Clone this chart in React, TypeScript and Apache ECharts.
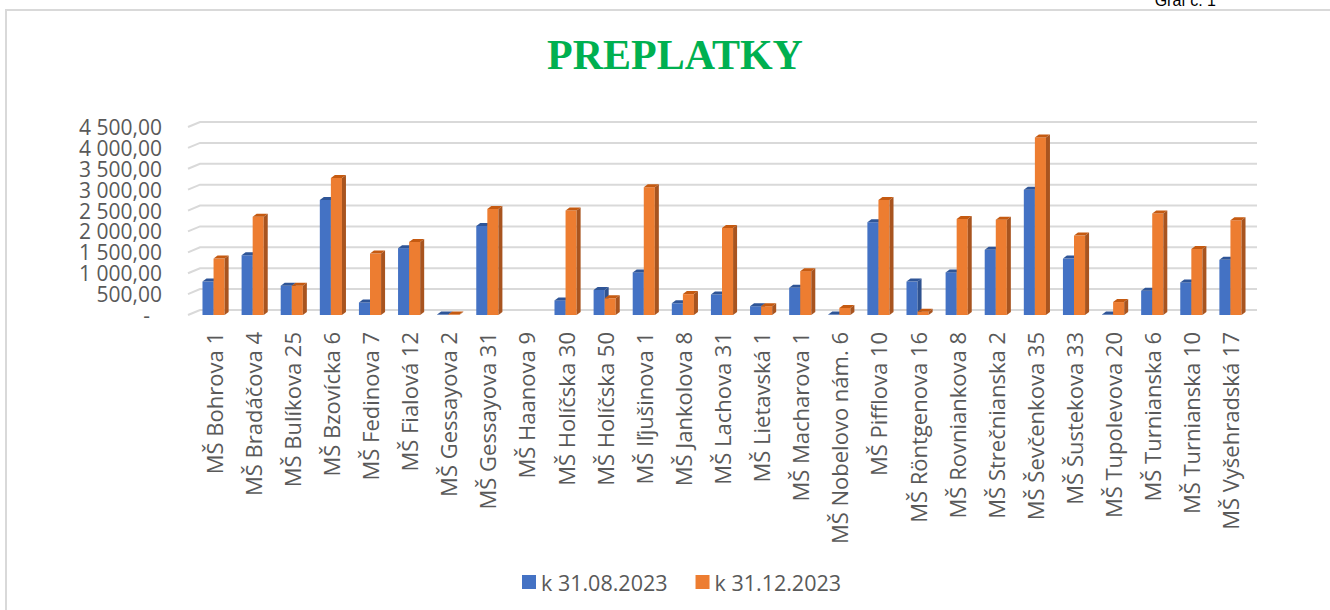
import React, { useEffect, useRef } from 'react';
import * as echarts from 'echarts';

const categories = [
  'MŠ Bohrova 1', 'MŠ Bradáčova 4', 'MŠ Bulíkova 25', 'MŠ Bzovícka 6', 'MŠ Fedinova 7',
  'MŠ Fialová 12', 'MŠ Gessayova 2', 'MŠ Gessayova 31', 'MŠ Haanova 9', 'MŠ Holíčska 30',
  'MŠ Holíčska 50', 'MŠ Iľjušinova 1', 'MŠ Jankolova 8', 'MŠ Lachova 31', 'MŠ Lietavská 1',
  'MŠ Macharova 1', 'MŠ Nobelovo nám. 6', 'MŠ Pifflova 10', 'MŠ Röntgenova 16', 'MŠ Rovniankova 8',
  'MŠ Strečnianska 2', 'MŠ Ševčenkova 35', 'MŠ Šustekova 33', 'MŠ Tupolevova 20', 'MŠ Turnianska 6',
  'MŠ Turnianska 10', 'MŠ Vyšehradská 17',
];

const seriesNames = ['k 31.08.2023', 'k 31.12.2023'];

const aug2023: (number | null)[] = [
  800, 1430, 700, 2750, 300, 1600, 10, 2130, null, 350,
  600, 1020, 280, 490, 210, 650, 10, 2220, 800, 1020,
  1560, 3000, 1350, 10, 580, 780, 1320,
];

const dec2023: (number | null)[] = [
  1350, 2350, 700, 3280, 1470, 1750, 10, 2540, null, 2500,
  400, 3060, 500, 2080, 210, 1050, 170, 2750, 80, 2300,
  2280, 4250, 1900, 310, 2430, 1580, 2270,
];

const yTicks = [0, 500, 1000, 1500, 2000, 2500, 3000, 3500, 4000, 4500];

const palette = [
  { front: '#4472C4', top: '#2F5597', side: '#2F528F' },
  { front: '#ED7D31', top: '#C55A11', side: '#A8541F' },
];

function fmtNum(v: number): string {
  if (v === 0) return '{d|-}';
  const [i, d] = v.toFixed(2).split('.');
  return i.replace(/\B(?=(\d{3})+(?!\d))/g, ' ') + ',' + d;
}

function makeBarRender(sIdx: number) {
  const c = palette[sIdx];
  return (params: any, api: any) => {
    const idx = api.value(0);
    const val = api.value(1);
    if (val == null || isNaN(val)) return null;
    const base = api.coord([idx, 0]);
    const top = api.coord([idx, val]);
    const catW = api.size([1, 0])[0];
    const bw = catW * 0.283;
    const x0 = base[0] - bw + sIdx * bw;
    const dx = 4;
    const dy = 3;
    const yt = top[1];
    const yb = base[1];
    return {
      type: 'group',
      children: [
        {
          type: 'rect',
          shape: { x: x0, y: yt, width: bw, height: Math.max(yb - yt, 0) },
          style: { fill: c.front },
        },
        {
          type: 'polygon',
          shape: { points: [[x0, yt], [x0 + dx, yt - dy], [x0 + bw + dx, yt - dy], [x0 + bw, yt]] },
          style: { fill: c.top },
        },
        {
          type: 'polygon',
          shape: { points: [[x0 + bw, yt], [x0 + bw + dx, yt - dy], [x0 + bw + dx, yb - dy], [x0 + bw, yb]] },
          style: { fill: c.side },
        },
      ],
    };
  };
}

function gridRender(params: any, api: any) {
  const cs = params.coordSys;
  const y = api.coord([0, api.value(1)])[1];
  return {
    type: 'polyline',
    shape: { points: [[cs.x - 6, y], [cs.x + 6, y - 5], [cs.x + cs.width + 7, y - 5]] },
    style: { stroke: '#D9D9D9', lineWidth: 2, fill: null },
  };
}

export default function App() {
  const ref = useRef<HTMLDivElement>(null);
  useEffect(() => {
    if (!ref.current) return;
    const chart = echarts.init(ref.current, undefined, { renderer: 'svg' });
    const toData = (arr: (number | null)[]) => arr.map((v, i) => [i, v == null ? '-' : v]);
    chart.setOption({
      animation: false,
      backgroundColor: '#ffffff',
      title: {
        text: 'PREPLATKY',
        left: 542,
        top: 29,
        textStyle: {
          fontFamily: 'Liberation Serif',
          fontWeight: 'bold',
          fontSize: 42,
          color: '#00B050',
        },
      },
      graphic: [
        {
          type: 'rect',
          silent: true,
          shape: { x: 6, y: 10, width: 1400, height: 700 },
          style: { fill: 'none', stroke: '#D9D9D9', lineWidth: 2 },
        },
        {
          type: 'text',
          silent: true,
          x: 1216,
          y: 8,
          style: {
            text: 'Graf č. 1',
            font: '16px "Liberation Sans"',
            fill: '#000000',
            textAlign: 'right',
            textVerticalAlign: 'bottom',
          },
        },
      ],
      legend: {
        data: seriesNames,
        left: 517,
        top: 566,
        icon: 'rect',
        itemWidth: 14,
        itemHeight: 14,
        itemGap: 28,
        textStyle: { fontFamily: 'Open Sans', fontSize: 21.5, color: '#595959' },
      },
      grid: { left: 194, right: 80, top: 127, bottom: 295, containLabel: false },
      xAxis: {
        type: 'category',
        data: categories,
        axisLine: { show: false },
        axisTick: { show: false },
        splitLine: { show: false },
        axisLabel: {
          rotate: 90,
          interval: 0,
          margin: 17,
          fontFamily: 'Open Sans',
          fontSize: 22,
          color: '#595959',
        },
      },
      yAxis: {
        type: 'value',
        min: 0,
        max: 4500,
        interval: 500,
        axisLine: { show: false },
        axisTick: { show: false },
        splitLine: { show: false },
        axisLabel: {
          margin: 32,
          fontFamily: 'Open Sans',
          fontSize: 21,
          lineHeight: 20,
          color: '#595959',
          formatter: (v: number) => fmtNum(v),
          rich: {
            d: { fontFamily: 'Open Sans', fontSize: 21, lineHeight: 20, color: '#595959', padding: [0, 12, 0, 0] },
          },
        },
      },
      series: [
        {
          name: 'grid-walls',
          type: 'custom',
          silent: true,
          z: 1,
          renderItem: gridRender,
          encode: { x: 0, y: 1 },
          data: yTicks.map((v) => [0, v]),
        },
        {
          name: seriesNames[0],
          type: 'custom',
          z: 2,
          itemStyle: { color: palette[0].front },
          renderItem: makeBarRender(0),
          encode: { x: 0, y: 1 },
          data: toData(aug2023),
        },
        {
          name: seriesNames[1],
          type: 'custom',
          z: 3,
          itemStyle: { color: palette[1].front },
          renderItem: makeBarRender(1),
          encode: { x: 0, y: 1 },
          data: toData(dec2023),
        },
      ],
    });
    return () => chart.dispose();
  }, []);
  return (
    <div
      ref={ref}
      style={{ position: 'fixed', left: 0, top: 0, width: 1330, height: 610, background: '#fff' }}
    />
  );
}
